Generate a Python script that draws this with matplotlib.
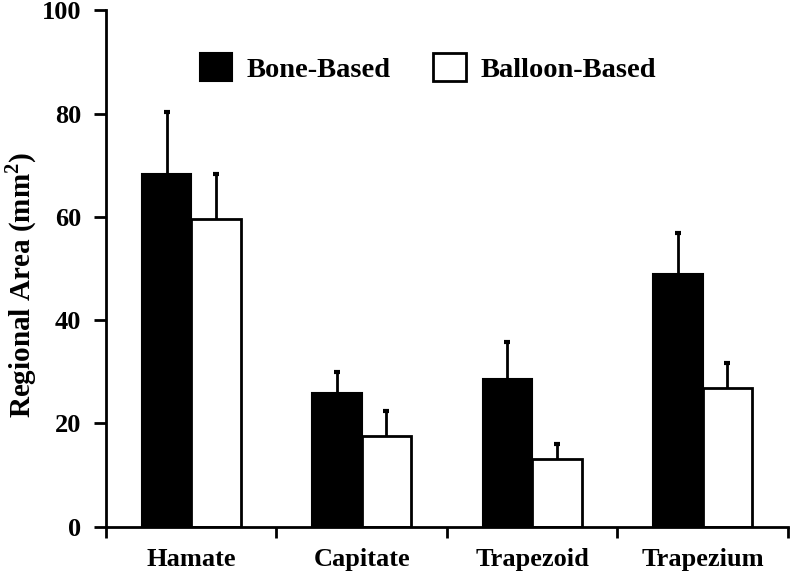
import matplotlib
matplotlib.use("Agg")
import matplotlib.pyplot as plt
import numpy as np

categories = ["Hamate", "Capitate", "Trapezoid", "Trapezium"]
bone_based = [68.3, 25.8, 28.7, 49.0]
bone_err = [12.0, 4.2, 7.0, 7.9]
balloon_based = [59.6, 17.6, 13.2, 26.9]
balloon_err = [8.8, 4.9, 2.9, 4.9]
yticks = [0, 20, 40, 60, 80, 100]

plt.rcParams['font.family'] = ['Liberation Serif', 'DejaVu Serif']
plt.rcParams['font.weight'] = 'bold'
plt.rcParams['mathtext.fontset'] = 'custom'
plt.rcParams['mathtext.rm'] = 'Liberation Serif:bold'
plt.rcParams['mathtext.bf'] = 'Liberation Serif:bold'

fig = plt.figure(figsize=(7.91, 5.75), dpi=100)
ax = fig.add_axes([0.134, 0.084, 0.862, 0.898])

x = np.arange(len(categories))
w = 0.29
ax.bar(x - w/2, bone_based, w, color='black', edgecolor='black', linewidth=1.5,
       label='Bone-Based', zorder=2)
ax.bar(x + w/2, balloon_based, w, color='white', edgecolor='black', linewidth=2,
       label='Balloon-Based', zorder=2)

for xs, vals, errs in [(x - w/2, bone_based, bone_err), (x + w/2, balloon_based, balloon_err)]:
    vals = np.array(vals)
    errs = np.array(errs)
    ax.vlines(xs, vals, vals + errs, colors='black', linewidth=2, zorder=1)
    ax.plot(xs, vals + errs, linestyle='none', marker='_', markersize=5,
            markeredgewidth=3, color='black', zorder=1)

ax.set_xlim(-0.5, len(categories) - 0.5)
ax.set_ylim(0, 100)
ax.set_yticks(yticks)
ax.set_yticklabels([str(t) for t in yticks], fontsize=19, fontweight='bold')
ax.set_xticks(np.arange(len(categories) + 1) - 0.5)
ax.set_xticklabels([])
ax.set_xticks(x, minor=True)
ax.set_xticklabels(categories, minor=True, fontsize=19, fontweight='bold')
ax.tick_params(axis='x', which='minor', length=0, pad=15)
ax.tick_params(axis='x', which='major', length=8, width=2, direction='out')
ax.tick_params(axis='y', length=9, width=2, direction='out', pad=9)

for s in ['top', 'right']:
    ax.spines[s].set_visible(False)
for s in ['left', 'bottom']:
    ax.spines[s].set_linewidth(2)

ax.set_ylabel(r'Regional Area (mm$^{2}$)', fontsize=21, fontweight='bold')
ax.yaxis.label.set_verticalalignment('center')
ax.yaxis.set_label_coords(-0.124, 0.468)

leg = ax.legend(ncol=2, frameon=False, loc='center', bbox_to_anchor=(0.472, 0.889),
                prop={'family': 'Liberation Serif', 'weight': 'bold', 'size': 20.5},
                handlelength=1.15, handleheight=1.15, handletextpad=0.5, columnspacing=1.5)

fig.savefig('out.png', dpi=100)
